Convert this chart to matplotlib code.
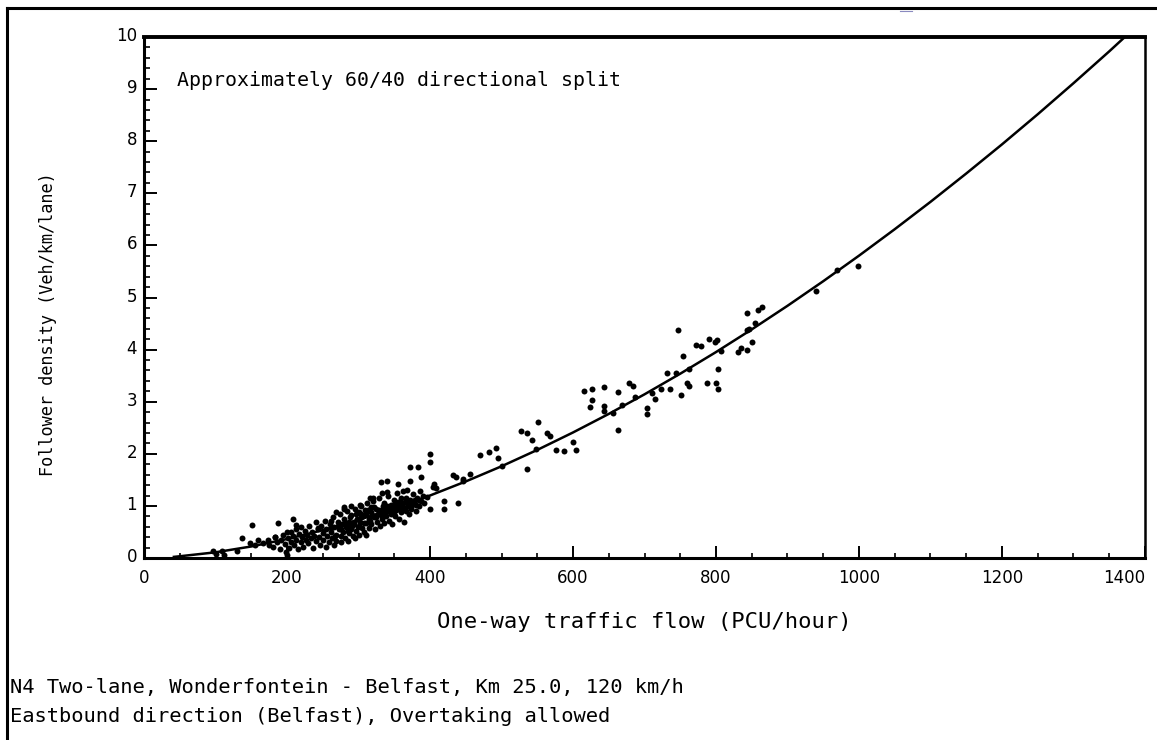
import matplotlib
matplotlib.use("Agg")
import matplotlib.pyplot as plt
from matplotlib.lines import Line2D
from matplotlib.ticker import MultipleLocator
from matplotlib.transforms import ScaledTranslation

# ---------------- data ----------------
# fitted curve: one-way flow (PCU/h) vs follower density
curve_flow = [40, 50, 100, 150, 200, 250, 300, 350, 400, 450, 500, 550, 600, 650,
              700, 750, 800, 850, 900, 950, 1000, 1050, 1100, 1150, 1200, 1250,
              1300, 1350, 1375]
curve_fd = [0.02, 0.034, 0.110, 0.222, 0.365, 0.535, 0.732, 0.954, 1.200, 1.470,
            1.761, 2.075, 2.410, 2.766, 3.142, 3.538, 3.953, 4.388, 4.841, 5.313,
            5.803, 6.311, 6.836, 7.380, 7.939, 8.517, 9.113, 9.724, 10.04]

# dense cluster of observations (flow 180-390)
cluster_flow = [180, 183, 186, 190, 192, 195, 197, 199, 200, 201, 203, 205, 206, 208, 210,
                212, 213, 215, 217, 219,
                220, 221, 223, 225, 226, 228, 230, 231, 233, 235, 236, 238, 240, 241, 243,
                245, 246, 248, 250, 251, 253, 255, 256, 258, 260,
                261, 263, 264, 266, 268, 269, 271, 272, 274, 275, 277, 278, 280, 281, 283,
                284, 286, 287, 289, 290, 292, 293, 295, 296, 298, 299, 300, 300,
                302, 303, 305, 306, 308, 309, 311, 312, 314, 315, 317, 318, 320, 321, 323,
                324, 326, 327, 329, 330, 332, 333, 335, 336, 338, 339,
                341, 342, 344, 345, 347, 348, 350, 351, 353, 354, 356, 357, 359, 360, 362,
                363, 365, 366, 368, 369, 371, 372, 374, 376, 378, 380, 382, 384, 386, 388,
                255, 265, 275, 285, 295, 310, 268, 279, 290, 244, 262, 286, 304, 318, 334,
                349, 364, 379,
                262, 267, 271, 276, 282, 285, 288, 291, 294, 297, 301, 304, 307, 310, 313,
                316, 319, 322, 325, 328, 331, 334, 337, 340, 343, 346, 349, 352, 355, 358,
                361, 364, 367, 370, 373, 377, 381, 385, 390, 392]
cluster_fd = [0.22, 0.40, 0.30, 0.18, 0.35, 0.45, 0.26, 0.12, 0.05, 0.38, 0.20, 0.50, 0.30,
              0.42, 0.25, 0.55, 0.35, 0.18, 0.46, 0.30,
              0.60, 0.40, 0.22, 0.52, 0.34, 0.45, 0.28, 0.62, 0.38, 0.50, 0.20, 0.43, 0.70,
              0.32, 0.55, 0.40, 0.25, 0.62, 0.48, 0.35, 0.72, 0.55, 0.42, 0.30, 0.65,
              0.50, 0.38, 0.78, 0.60, 0.45, 0.32, 0.70, 0.55, 0.85, 0.42, 0.65, 0.50, 0.75,
              0.38, 0.60, 0.90, 0.48, 0.70, 0.55, 0.82, 0.42, 0.65, 0.95, 0.52, 0.75, 0.60,
              0.88, 0.45,
              0.70, 1.00, 0.58, 0.80, 0.50, 0.92, 0.68, 1.05, 0.75, 0.58, 0.88, 0.65, 1.10,
              0.78, 0.55, 0.95, 0.70, 0.85, 1.15, 0.62, 0.90, 0.75, 1.05, 0.68, 0.95, 0.80,
              1.20, 0.72, 0.88, 1.02, 0.65, 0.95, 1.12, 0.80, 0.92, 1.25, 0.75, 1.05, 0.88,
              1.15, 0.98, 0.70, 1.08, 0.90, 1.30, 1.00, 0.85, 1.12, 0.95, 1.22, 1.05, 0.90,
              1.15, 1.00, 1.28, 1.10,
              0.22, 0.25, 0.30, 0.33, 0.38, 0.45, 0.88, 0.95, 1.00, 0.58, 0.72, 0.62, 0.85,
              0.98, 1.00, 0.85, 0.95, 1.12,
              0.58, 0.42, 0.62, 0.55, 0.68, 0.52, 0.78, 0.62, 0.70, 0.85, 0.62, 0.78, 0.68,
              0.85, 0.92, 0.72, 0.82, 0.98, 0.78, 0.92, 0.82, 0.95, 0.88, 1.00, 0.95, 0.85,
              1.02, 0.98, 1.08, 0.95, 1.05, 0.95, 1.15, 1.05, 0.98, 1.10, 1.02, 1.12, 1.20,
              1.05]

# scattered observations
sparse_flow = [96, 100, 109, 112, 130, 137, 151, 148, 160, 155, 167, 173, 175, 188, 183,
               208, 200, 213,
               331, 340, 355, 372, 383, 387, 372, 400, 400, 406, 409, 420, 420, 400, 340,
               362, 404, 396, 432, 436, 446, 446, 456, 439, 280, 302, 316, 320, 333,
               470, 483, 492, 495, 501, 527, 536, 543, 551, 536, 548, 563, 568, 576, 587,
               600, 604, 615, 627, 627, 624, 643, 643, 644, 656, 663, 663, 668, 679, 684,
               687, 703, 703, 710, 715, 723, 731, 736, 744, 747, 751, 754, 759, 762, 762,
               772, 779, 787, 790, 799, 801, 800, 803, 803, 807, 831, 835, 843, 851, 843,
               846, 843, 855, 859, 865, 940, 969, 999]
sparse_fd = [0.13, 0.08, 0.13, 0.06, 0.13, 0.38, 0.63, 0.29, 0.35, 0.25, 0.29, 0.35, 0.25,
             0.67, 0.40, 0.75, 0.50, 0.63,
             1.46, 1.48, 1.42, 1.75, 1.75, 1.56, 1.48, 2.00, 1.85, 1.42, 1.35, 1.10, 0.94,
             0.94, 1.27, 1.29, 1.37, 1.17, 1.60, 1.56, 1.52, 1.48, 1.62, 1.06, 0.98, 1.02,
             1.15, 1.15, 1.25,
             1.98, 2.04, 2.12, 1.92, 1.77, 2.44, 2.40, 2.27, 2.62, 1.71, 2.10, 2.40, 2.35,
             2.08, 2.06, 2.23, 2.08, 3.21, 3.25, 3.04, 2.90, 3.29, 2.92, 2.83, 2.79, 3.19,
             2.46, 2.94, 3.35, 3.31, 3.10, 2.87, 2.77, 3.17, 3.06, 3.25, 3.56, 3.25, 3.56,
             4.38, 3.12, 3.88, 3.35, 3.31, 3.63, 4.08, 4.06, 3.35, 4.21, 4.15, 4.19, 3.35,
             3.63, 3.25, 3.98, 3.96, 4.04, 4.00, 4.15, 4.38, 4.40, 4.71, 4.52, 4.77, 4.81,
             5.12, 5.52, 5.60]

x_ticks = [0, 200, 400, 600, 800, 1000, 1200, 1400]
y_ticks = [0, 1, 2, 3, 4, 5, 6, 7, 8, 9, 10]

# ---------------- figure ----------------
MONO = "DejaVu Sans Mono"
fig = plt.figure(figsize=(11.57, 7.40), dpi=100)
fig.patch.set_facecolor("white")
ax = fig.add_axes([0.1245, 0.2459, 0.8651, 0.7041])

ax.plot(curve_flow, curve_fd, color="black", lw=1.8, solid_capstyle="butt", clip_on=True)
ax.plot(cluster_flow, cluster_fd, "o", color="black", ms=4.3, mew=0, ls="none")
ax.plot(sparse_flow, sparse_fd, "o", color="black", ms=4.3, mew=0, ls="none")

ax.set_xlim(0, 1400)
ax.set_ylim(0, 10)
ax.set_xticks(x_ticks)
ax.set_yticks(y_ticks)
ax.xaxis.set_minor_locator(MultipleLocator(50))
ax.yaxis.set_minor_locator(MultipleLocator(0.2))

ax.tick_params(axis="both", which="major", direction="in", width=1.4, labelsize=12,
               colors="black")
ax.tick_params(axis="x", which="major", length=8.5, pad=8)
ax.tick_params(axis="y", which="major", length=9, pad=5)
ax.tick_params(axis="x", which="minor", direction="in", length=3.6, width=1.2)
ax.tick_params(axis="y", which="minor", direction="in", length=4.3, width=1.2)

fig.canvas.draw()
xlabs = ax.get_xticklabels()
for lab in xlabs + ax.get_yticklabels():
    lab.set_fontfamily("DejaVu Sans")
xlabs[-1].set_horizontalalignment("right")
shift_up = ScaledTranslation(0, 3 / 100, fig.dpi_scale_trans)
for lab in ax.get_yticklabels():
    lab.set_transform(lab.get_transform() + shift_up)

for side in ["left", "bottom"]:
    ax.spines[side].set_linewidth(2.2)
ax.spines["top"].set_linewidth(2.8)
ax.spines["right"].set_linewidth(1.8)

ax.set_xlabel("One-way traffic flow (PCU/hour)", fontfamily=MONO, fontsize=16)
ax.xaxis.set_label_coords(0.5, -0.104)
ax.set_ylabel("Follower density (Veh/km/lane)", fontfamily=MONO, fontsize=12.2)
ax.yaxis.set_label_coords(-0.087, 0.449)

ax.text(0.033, 0.917, "Approximately 60/40 directional split", transform=ax.transAxes,
        fontfamily=MONO, fontsize=14.3, ha="left", va="center")

fig.text(10 / 1157, 1 - 688 / 740, "N4 Two-lane, Wonderfontein - Belfast, Km 25.0, 120 km/h",
         fontfamily=MONO, fontsize=14.7, ha="left", va="center")
fig.text(10 / 1157, 1 - 716 / 740, "Eastbound direction (Belfast), Overtaking allowed",
         fontfamily=MONO, fontsize=14.7, ha="left", va="center")

# frame lines around the figure (top and left)
fig.add_artist(Line2D([7 / 1157, 1.0], [1 - 8 / 740, 1 - 8 / 740],
                      transform=fig.transFigure, color="black", lw=2.2))
fig.add_artist(Line2D([7 / 1157, 7 / 1157], [0, 1 - 8 / 740],
                      transform=fig.transFigure, color="black", lw=2.2))
fig.add_artist(Line2D([900 / 1157, 912 / 1157], [1 - 11 / 740, 1 - 11 / 740],
                      transform=fig.transFigure, color="#8a8ac0", lw=0.8))

fig.savefig("out.png", dpi=100, facecolor="white")
